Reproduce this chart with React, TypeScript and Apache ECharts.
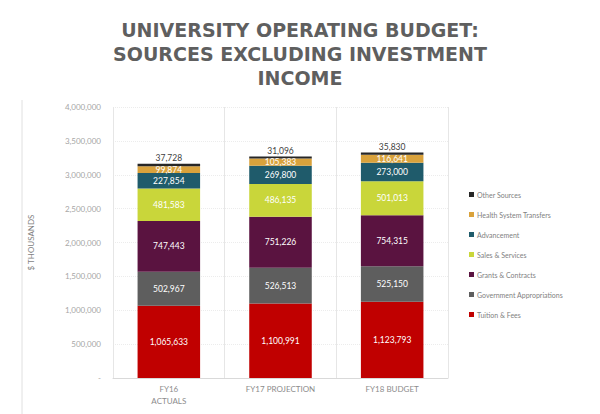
import React, { useEffect, useRef } from "react";
import * as echarts from "echarts";

const categories = ["FY16\nACTUALS", "FY17 PROJECTION", "FY18 BUDGET"];
const seriesNames = [
  "Tuition & Fees",
  "Government Appropriations",
  "Grants & Contracts",
  "Sales & Services",
  "Advancement",
  "Health System Transfers",
  "Other Sources",
];
const tuition = [1065633, 1100991, 1123793];
const government = [502967, 526513, 525150];
const grants = [747443, 751226, 754315];
const sales = [481583, 486135, 501013];
const advancement = [227854, 269800, 273000];
const health = [99874, 105383, 116641];
const other = [37728, 31096, 35830];
const colors = ["#C00000", "#5E5E5E", "#5A1340", "#C9D63A", "#1F5B6B", "#D9A23C", "#262626"];
const yTicks = { min: 0, max: 4000000, interval: 500000 };

const fmt = (v: number) => (v === 0 ? "-" : v.toLocaleString("en-US"));

export default function App() {
  const ref = useRef<HTMLDivElement>(null);
  useEffect(() => {
    document.body.style.margin = "0";
    if (!ref.current) return;
    const chart = echarts.init(ref.current, null, { renderer: "svg" });
    const data = [tuition, government, grants, sales, advancement, health, other];
    const series = data.map((d, i) => ({
      name: seriesNames[i],
      type: "bar",
      stack: "total",
      barWidth: "56%",
      data: d,
      itemStyle: { color: colors[i] },
      label: {
        show: true,
        position: i === 6 ? "top" : "inside",
        formatter: (p: any) => fmt(p.value),
        color: i === 6 ? "#404040" : "#ffffff",
        fontSize: 8.5,
        fontFamily: "Lato",
        distance: 1,
      },
    }));
    chart.setOption({
      animation: false,
      title: {
        text: "UNIVERSITY OPERATING BUDGET:\nSOURCES EXCLUDING INVESTMENT\nINCOME",
        left: "center",
        top: 13,
        textStyle: {
          fontFamily: "DejaVu Sans",
          fontWeight: "bold",
          fontSize: 19,
          lineHeight: 24,
          color: "#5f5f5f",
        },
      },
      grid: { left: 113, right: 152, top: 107, bottom: 36 },
      legend: {
        orient: "vertical",
        left: 464,
        top: 186,
        data: [...seriesNames].reverse(),
        itemWidth: 5,
        itemHeight: 5,
        itemGap: 13,
        icon: "rect",
        textStyle: { fontSize: 7, color: "#7f7f7f", fontFamily: "Lato", padding: [0, 0, 0, -2] },
      },
      xAxis: {
        type: "category",
        data: categories,
        axisLine: { lineStyle: { color: "#d9d9d9" } },
        axisTick: { show: true, length: -271, lineStyle: { color: "#e6e6e6" } },
        axisLabel: { color: "#8c8c8c", fontSize: 8, fontFamily: "Lato", lineHeight: 12, margin: 5 },
      },
      yAxis: {
        type: "value",
        min: yTicks.min,
        max: yTicks.max,
        interval: yTicks.interval,
        name: "$ THOUSANDS",
        nameLocation: "middle",
        nameGap: 78,
        nameTextStyle: { color: "#7f7f7f", fontSize: 8, fontFamily: "Lato" },
        axisLabel: { color: "#a6a6a6", fontSize: 8, fontFamily: "Lato", formatter: fmt, margin: 12 },
        splitLine: { lineStyle: { color: "#ececec", type: "dotted" } },
        axisLine: { show: false },
      },
      series,
      graphic: [
        { type: "line", shape: { x1: 22, y1: 100, x2: 22, y2: 414 }, style: { stroke: "#e0e0e0", lineWidth: 1 } },
      ],
    });
    return () => chart.dispose();
  }, []);
  return <div ref={ref} style={{ width: 600, height: 414 }} />;
}
